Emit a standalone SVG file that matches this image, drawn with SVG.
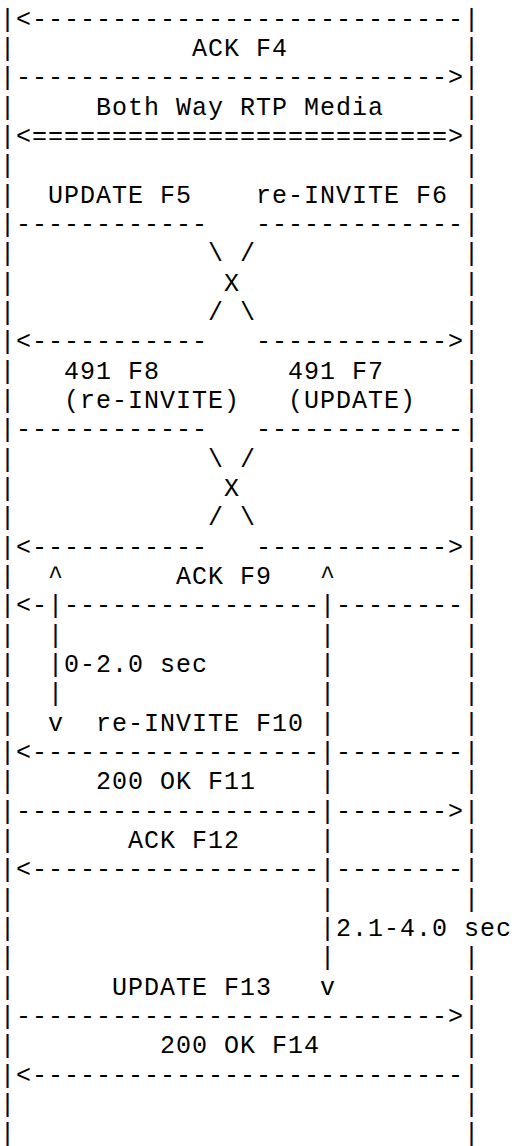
<svg xmlns="http://www.w3.org/2000/svg" width="512" height="1146" viewBox="0 0 512 1146">
<style>
  text { font-family: "Liberation Mono", "Courier New", monospace; font-size: 25px; letter-spacing: 1px; fill: #000; white-space: pre; }
</style>
<rect width="512" height="1146" fill="#fff"/>
<g id="ascii-diagram">
<text xml:space="preserve" x="0" y="26.7">|&lt;---------------------------|</text>
<text xml:space="preserve" x="0" y="56">|           ACK F4           |</text>
<text xml:space="preserve" x="0" y="85.3">|---------------------------&gt;|</text>
<text xml:space="preserve" x="0" y="114.7">|     Both Way RTP Media     |</text>
<text xml:space="preserve" x="0" y="144">|&lt;==========================&gt;|</text>
<text xml:space="preserve" x="0" y="173.3">|                            |</text>
<text xml:space="preserve" x="0" y="202.7">|  UPDATE F5    re-INVITE F6 |</text>
<text xml:space="preserve" x="0" y="232">|------------   -------------|</text>
<text xml:space="preserve" x="0" y="261.3">|            \ /             |</text>
<text xml:space="preserve" x="0" y="290.7">|             X              |</text>
<text xml:space="preserve" x="0" y="320">|            / \             |</text>
<text xml:space="preserve" x="0" y="349.3">|&lt;-----------   ------------&gt;|</text>
<text xml:space="preserve" x="0" y="378.7">|   491 F8        491 F7     |</text>
<text xml:space="preserve" x="0" y="408">|   (re-INVITE)   (UPDATE)   |</text>
<text xml:space="preserve" x="0" y="437.3">|------------   -------------|</text>
<text xml:space="preserve" x="0" y="466.7">|            \ /             |</text>
<text xml:space="preserve" x="0" y="496">|             X              |</text>
<text xml:space="preserve" x="0" y="525.3">|            / \             |</text>
<text xml:space="preserve" x="0" y="554.7">|&lt;-----------   ------------&gt;|</text>
<text xml:space="preserve" x="0" y="584">|  ^       ACK F9   ^        |</text>
<text xml:space="preserve" x="0" y="613.3">|&lt;-|----------------|--------|</text>
<text xml:space="preserve" x="0" y="642.7">|  |                |        |</text>
<text xml:space="preserve" x="0" y="672">|  |0-2.0 sec       |        |</text>
<text xml:space="preserve" x="0" y="701.3">|  |                |        |</text>
<text xml:space="preserve" x="0" y="730.7">|  v  re-INVITE F10 |        |</text>
<text xml:space="preserve" x="0" y="760">|&lt;------------------|--------|</text>
<text xml:space="preserve" x="0" y="789.3">|     200 OK F11    |        |</text>
<text xml:space="preserve" x="0" y="818.7">|-------------------|-------&gt;|</text>
<text xml:space="preserve" x="0" y="848">|       ACK F12     |        |</text>
<text xml:space="preserve" x="0" y="877.3">|&lt;------------------|--------|</text>
<text xml:space="preserve" x="0" y="906.7">|                   |        |</text>
<text xml:space="preserve" x="0" y="936">|                   |2.1-4.0 sec</text>
<text xml:space="preserve" x="0" y="965.3">|                   |        |</text>
<text xml:space="preserve" x="0" y="994.7">|      UPDATE F13   v        |</text>
<text xml:space="preserve" x="0" y="1024">|---------------------------&gt;|</text>
<text xml:space="preserve" x="0" y="1053.3">|         200 OK F14         |</text>
<text xml:space="preserve" x="0" y="1082.7">|&lt;---------------------------|</text>
<text xml:space="preserve" x="0" y="1112">|                            |</text>
<text xml:space="preserve" x="0" y="1141.3">|                            |</text>
</g>
</svg>
